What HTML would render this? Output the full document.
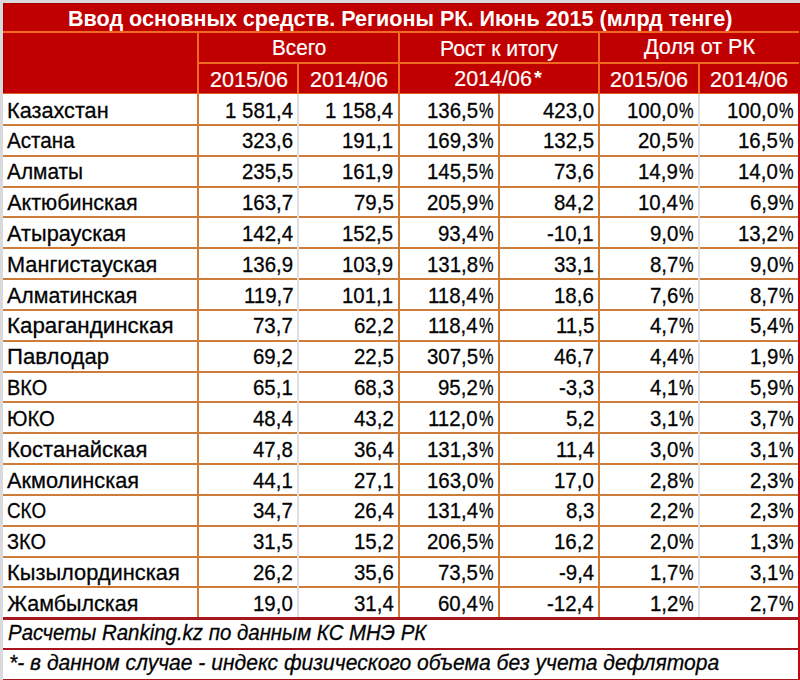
<!DOCTYPE html>
<html><head><meta charset="utf-8"><style>
html,body{margin:0;padding:0;width:800px;height:680px;overflow:hidden;background:#DADADC}
#w{position:absolute;left:0;top:0;width:800px;height:680px;overflow:hidden}
#w>div{position:absolute}
.t{font-family:"Liberation Sans",sans-serif;line-height:30px;white-space:pre;transform-origin:0 0}
.k{-webkit-text-stroke:0.3px #111}
.wt{-webkit-text-stroke:0.2px #fff}
</style></head><body><div id="w">
<div style="left:0;top:0;width:800px;height:680px;background:#DADADC"></div>
<div style="left:3.00px;top:3.00px;width:797.00px;height:91.09px;background:#C00000"></div>
<div style="left:2.50px;top:94.09px;width:795.70px;height:585.91px;background:#FFFFFF"></div>
<div style="left:3.00px;top:3.00px;width:797.00px;height:1.00px;background:#A80000"></div>
<div style="left:3.00px;top:3.00px;width:1.00px;height:90.09px;background:#A80000"></div>
<div style="left:3.00px;top:31.43px;width:795.50px;height:2.00px;background:#F06A22"></div>
<div style="left:198.00px;top:62.26px;width:600.50px;height:2.00px;background:#F06A22"></div>
<div style="left:3.00px;top:93.09px;width:795.20px;height:1.40px;background:#E0602A"></div>
<div style="left:197.00px;top:32.43px;width:2.00px;height:61.66px;background:#F06A22"></div>
<div style="left:397.60px;top:32.43px;width:2.00px;height:61.66px;background:#F06A22"></div>
<div style="left:598.00px;top:32.43px;width:2.00px;height:61.66px;background:#F06A22"></div>
<div style="left:297.20px;top:63.26px;width:2.00px;height:30.83px;background:#F06A22"></div>
<div style="left:698.00px;top:63.26px;width:2.00px;height:30.83px;background:#F06A22"></div>
<div style="left:2.50px;top:123.92px;width:795.70px;height:2.00px;background:#CD7D37"></div>
<div style="left:2.50px;top:154.75px;width:795.70px;height:2.00px;background:#CD7D37"></div>
<div style="left:2.50px;top:185.58px;width:795.70px;height:2.00px;background:#CD7D37"></div>
<div style="left:2.50px;top:216.41px;width:795.70px;height:2.00px;background:#CD7D37"></div>
<div style="left:2.50px;top:247.24px;width:795.70px;height:2.00px;background:#CD7D37"></div>
<div style="left:2.50px;top:278.07px;width:795.70px;height:2.00px;background:#CD7D37"></div>
<div style="left:2.50px;top:308.90px;width:795.70px;height:2.00px;background:#CD7D37"></div>
<div style="left:2.50px;top:339.73px;width:795.70px;height:2.00px;background:#CD7D37"></div>
<div style="left:2.50px;top:370.56px;width:795.70px;height:2.00px;background:#CD7D37"></div>
<div style="left:2.50px;top:401.39px;width:795.70px;height:2.00px;background:#CD7D37"></div>
<div style="left:2.50px;top:432.22px;width:795.70px;height:2.00px;background:#CD7D37"></div>
<div style="left:2.50px;top:463.05px;width:795.70px;height:2.00px;background:#CD7D37"></div>
<div style="left:2.50px;top:493.88px;width:795.70px;height:2.00px;background:#CD7D37"></div>
<div style="left:2.50px;top:524.71px;width:795.70px;height:2.00px;background:#CD7D37"></div>
<div style="left:2.50px;top:555.54px;width:795.70px;height:2.00px;background:#CD7D37"></div>
<div style="left:2.50px;top:586.37px;width:795.70px;height:2.00px;background:#CD7D37"></div>
<div style="left:197.00px;top:94.09px;width:2.00px;height:524.11px;background:#CD7D37"></div>
<div style="left:397.60px;top:94.09px;width:2.00px;height:524.11px;background:#CD7D37"></div>
<div style="left:497.80px;top:94.09px;width:2.00px;height:524.11px;background:#CD7D37"></div>
<div style="left:598.00px;top:94.09px;width:2.00px;height:524.11px;background:#CD7D37"></div>
<div style="left:297.00px;top:94.09px;width:2.40px;height:524.11px;background:#E0E0E2"></div>
<div style="left:697.80px;top:94.09px;width:2.40px;height:524.11px;background:#E0E0E2"></div>
<div style="left:2.50px;top:617.40px;width:795.70px;height:2.20px;background:#A8161E"></div>
<div style="left:2.50px;top:648.23px;width:795.70px;height:2.20px;background:#A8161E"></div>
<div style="left:2.50px;top:679.06px;width:795.70px;height:2.20px;background:#A8161E"></div>
<div style="left:798.20px;top:94.09px;width:1.80px;height:585.91px;background:#C00A14"></div>
<div class="t" style="left:67.50px;top:3.83px;font-size:21.5px;color:#FFFFFF;font-weight:bold;transform:scaleX(1.0030);">Ввод основных средств. Регионы РК. Июнь 2015 (млрд тенге)</div>
<div class="t wt" style="left:271.90px;top:32.50px;font-size:21.5px;color:#FFFFFF;transform:scaleX(0.9640);">Всего</div>
<div class="t wt" style="left:439.80px;top:34.40px;font-size:21.5px;color:#FFFFFF;transform:scaleX(0.9855);">Рост к итогу</div>
<div class="t wt" style="left:644.00px;top:32.20px;font-size:21.5px;color:#FFFFFF;transform:scaleX(1.0044);">Доля от РК</div>
<div class="t wt" style="left:209.50px;top:64.89px;font-size:21.5px;color:#FFFFFF;transform:scaleX(1.0036);">2015/06</div>
<div class="t wt" style="left:309.50px;top:64.89px;font-size:21.5px;color:#FFFFFF;transform:scaleX(1.0036);">2014/06</div>
<div class="t wt" style="left:454.20px;top:63.50px;font-size:21.5px;color:#FFFFFF;">2014/06</div>
<div class="t" style="left:534.40px;top:62.50px;font-size:19px;color:#FFFFFF;font-weight:bold;transform:scaleX(1.0661);">*</div>
<div class="t wt" style="left:610.00px;top:64.89px;font-size:21.5px;color:#FFFFFF;transform:scaleX(1.0036);">2015/06</div>
<div class="t wt" style="left:710.00px;top:64.89px;font-size:21.5px;color:#FFFFFF;transform:scaleX(1.0036);">2014/06</div>
<div class="t k" style="left:7.20px;top:95.62px;font-size:21.5px;color:#000000;transform:scaleX(1.0087);">Казахстан</div>
<div class="t k" style="left:225.08px;top:95.62px;font-size:21.5px;color:#000000;transform:scaleX(0.9500);">1 581,4</div>
<div class="t k" style="left:325.48px;top:95.62px;font-size:21.5px;color:#000000;transform:scaleX(0.9500);">1 158,4</div>
<div class="t k" style="left:479.20px;top:95.62px;font-size:21.5px;color:#000000;transform:scaleX(0.7630);">%</div>
<div class="t k" style="left:426.84px;top:95.62px;font-size:21.5px;color:#000000;transform:scaleX(0.9500);">136,5</div>
<div class="t k" style="left:542.84px;top:95.62px;font-size:21.5px;color:#000000;transform:scaleX(0.9500);">423,0</div>
<div class="t k" style="left:679.40px;top:95.62px;font-size:21.5px;color:#000000;transform:scaleX(0.7630);">%</div>
<div class="t k" style="left:627.04px;top:95.62px;font-size:21.5px;color:#000000;transform:scaleX(0.9500);">100,0</div>
<div class="t k" style="left:779.40px;top:95.62px;font-size:21.5px;color:#000000;transform:scaleX(0.7630);">%</div>
<div class="t k" style="left:727.04px;top:95.62px;font-size:21.5px;color:#000000;transform:scaleX(0.9500);">100,0</div>
<div class="t k" style="left:7.20px;top:126.45px;font-size:21.5px;color:#000000;transform:scaleX(0.9614);">Астана</div>
<div class="t k" style="left:242.04px;top:126.45px;font-size:21.5px;color:#000000;transform:scaleX(0.9500);">323,6</div>
<div class="t k" style="left:342.44px;top:126.45px;font-size:21.5px;color:#000000;transform:scaleX(0.9500);">191,1</div>
<div class="t k" style="left:479.20px;top:126.45px;font-size:21.5px;color:#000000;transform:scaleX(0.7630);">%</div>
<div class="t k" style="left:426.84px;top:126.45px;font-size:21.5px;color:#000000;transform:scaleX(0.9500);">169,3</div>
<div class="t k" style="left:542.84px;top:126.45px;font-size:21.5px;color:#000000;transform:scaleX(0.9500);">132,5</div>
<div class="t k" style="left:679.40px;top:126.45px;font-size:21.5px;color:#000000;transform:scaleX(0.7630);">%</div>
<div class="t k" style="left:638.47px;top:126.45px;font-size:21.5px;color:#000000;transform:scaleX(0.9500);">20,5</div>
<div class="t k" style="left:779.40px;top:126.45px;font-size:21.5px;color:#000000;transform:scaleX(0.7630);">%</div>
<div class="t k" style="left:738.47px;top:126.45px;font-size:21.5px;color:#000000;transform:scaleX(0.9500);">16,5</div>
<div class="t k" style="left:7.20px;top:157.28px;font-size:21.5px;color:#000000;transform:scaleX(0.9691);">Алматы</div>
<div class="t k" style="left:242.04px;top:157.28px;font-size:21.5px;color:#000000;transform:scaleX(0.9500);">235,5</div>
<div class="t k" style="left:342.44px;top:157.28px;font-size:21.5px;color:#000000;transform:scaleX(0.9500);">161,9</div>
<div class="t k" style="left:479.20px;top:157.28px;font-size:21.5px;color:#000000;transform:scaleX(0.7630);">%</div>
<div class="t k" style="left:426.84px;top:157.28px;font-size:21.5px;color:#000000;transform:scaleX(0.9500);">145,5</div>
<div class="t k" style="left:554.27px;top:157.28px;font-size:21.5px;color:#000000;transform:scaleX(0.9500);">73,6</div>
<div class="t k" style="left:679.40px;top:157.28px;font-size:21.5px;color:#000000;transform:scaleX(0.7630);">%</div>
<div class="t k" style="left:638.47px;top:157.28px;font-size:21.5px;color:#000000;transform:scaleX(0.9500);">14,9</div>
<div class="t k" style="left:779.40px;top:157.28px;font-size:21.5px;color:#000000;transform:scaleX(0.7630);">%</div>
<div class="t k" style="left:738.47px;top:157.28px;font-size:21.5px;color:#000000;transform:scaleX(0.9500);">14,0</div>
<div class="t k" style="left:7.20px;top:188.11px;font-size:21.5px;color:#000000;">Актюбинская</div>
<div class="t k" style="left:242.04px;top:188.11px;font-size:21.5px;color:#000000;transform:scaleX(0.9500);">163,7</div>
<div class="t k" style="left:353.87px;top:188.11px;font-size:21.5px;color:#000000;transform:scaleX(0.9500);">79,5</div>
<div class="t k" style="left:479.20px;top:188.11px;font-size:21.5px;color:#000000;transform:scaleX(0.7630);">%</div>
<div class="t k" style="left:426.84px;top:188.11px;font-size:21.5px;color:#000000;transform:scaleX(0.9500);">205,9</div>
<div class="t k" style="left:554.27px;top:188.11px;font-size:21.5px;color:#000000;transform:scaleX(0.9500);">84,2</div>
<div class="t k" style="left:679.40px;top:188.11px;font-size:21.5px;color:#000000;transform:scaleX(0.7630);">%</div>
<div class="t k" style="left:638.47px;top:188.11px;font-size:21.5px;color:#000000;transform:scaleX(0.9500);">10,4</div>
<div class="t k" style="left:779.40px;top:188.11px;font-size:21.5px;color:#000000;transform:scaleX(0.7630);">%</div>
<div class="t k" style="left:749.81px;top:188.11px;font-size:21.5px;color:#000000;transform:scaleX(0.9500);">6,9</div>
<div class="t k" style="left:7.20px;top:218.94px;font-size:21.5px;color:#000000;transform:scaleX(1.0123);">Атырауская</div>
<div class="t k" style="left:242.04px;top:218.94px;font-size:21.5px;color:#000000;transform:scaleX(0.9500);">142,4</div>
<div class="t k" style="left:342.44px;top:218.94px;font-size:21.5px;color:#000000;transform:scaleX(0.9500);">152,5</div>
<div class="t k" style="left:479.20px;top:218.94px;font-size:21.5px;color:#000000;transform:scaleX(0.7630);">%</div>
<div class="t k" style="left:438.27px;top:218.94px;font-size:21.5px;color:#000000;transform:scaleX(0.9500);">93,4</div>
<div class="t k" style="left:547.43px;top:218.94px;font-size:21.5px;color:#000000;transform:scaleX(0.9500);">-10,1</div>
<div class="t k" style="left:679.40px;top:218.94px;font-size:21.5px;color:#000000;transform:scaleX(0.7630);">%</div>
<div class="t k" style="left:649.81px;top:218.94px;font-size:21.5px;color:#000000;transform:scaleX(0.9500);">9,0</div>
<div class="t k" style="left:779.40px;top:218.94px;font-size:21.5px;color:#000000;transform:scaleX(0.7630);">%</div>
<div class="t k" style="left:738.47px;top:218.94px;font-size:21.5px;color:#000000;transform:scaleX(0.9500);">13,2</div>
<div class="t k" style="left:7.20px;top:249.77px;font-size:21.5px;color:#000000;transform:scaleX(1.0109);">Мангистауская</div>
<div class="t k" style="left:242.04px;top:249.77px;font-size:21.5px;color:#000000;transform:scaleX(0.9500);">136,9</div>
<div class="t k" style="left:342.44px;top:249.77px;font-size:21.5px;color:#000000;transform:scaleX(0.9500);">103,9</div>
<div class="t k" style="left:479.20px;top:249.77px;font-size:21.5px;color:#000000;transform:scaleX(0.7630);">%</div>
<div class="t k" style="left:426.84px;top:249.77px;font-size:21.5px;color:#000000;transform:scaleX(0.9500);">131,8</div>
<div class="t k" style="left:554.27px;top:249.77px;font-size:21.5px;color:#000000;transform:scaleX(0.9500);">33,1</div>
<div class="t k" style="left:679.40px;top:249.77px;font-size:21.5px;color:#000000;transform:scaleX(0.7630);">%</div>
<div class="t k" style="left:649.81px;top:249.77px;font-size:21.5px;color:#000000;transform:scaleX(0.9500);">8,7</div>
<div class="t k" style="left:779.40px;top:249.77px;font-size:21.5px;color:#000000;transform:scaleX(0.7630);">%</div>
<div class="t k" style="left:749.81px;top:249.77px;font-size:21.5px;color:#000000;transform:scaleX(0.9500);">9,0</div>
<div class="t k" style="left:7.20px;top:280.60px;font-size:21.5px;color:#000000;transform:scaleX(0.9935);">Алматинская</div>
<div class="t k" style="left:243.57px;top:280.60px;font-size:21.5px;color:#000000;transform:scaleX(0.9500);">119,7</div>
<div class="t k" style="left:342.44px;top:280.60px;font-size:21.5px;color:#000000;transform:scaleX(0.9500);">101,1</div>
<div class="t k" style="left:479.20px;top:280.60px;font-size:21.5px;color:#000000;transform:scaleX(0.7630);">%</div>
<div class="t k" style="left:428.37px;top:280.60px;font-size:21.5px;color:#000000;transform:scaleX(0.9500);">118,4</div>
<div class="t k" style="left:554.27px;top:280.60px;font-size:21.5px;color:#000000;transform:scaleX(0.9500);">18,6</div>
<div class="t k" style="left:679.40px;top:280.60px;font-size:21.5px;color:#000000;transform:scaleX(0.7630);">%</div>
<div class="t k" style="left:649.81px;top:280.60px;font-size:21.5px;color:#000000;transform:scaleX(0.9500);">7,6</div>
<div class="t k" style="left:779.40px;top:280.60px;font-size:21.5px;color:#000000;transform:scaleX(0.7630);">%</div>
<div class="t k" style="left:749.81px;top:280.60px;font-size:21.5px;color:#000000;transform:scaleX(0.9500);">8,7</div>
<div class="t k" style="left:7.20px;top:311.43px;font-size:21.5px;color:#000000;transform:scaleX(1.0391);">Карагандинская</div>
<div class="t k" style="left:253.47px;top:311.43px;font-size:21.5px;color:#000000;transform:scaleX(0.9500);">73,7</div>
<div class="t k" style="left:353.87px;top:311.43px;font-size:21.5px;color:#000000;transform:scaleX(0.9500);">62,2</div>
<div class="t k" style="left:479.20px;top:311.43px;font-size:21.5px;color:#000000;transform:scaleX(0.7630);">%</div>
<div class="t k" style="left:428.37px;top:311.43px;font-size:21.5px;color:#000000;transform:scaleX(0.9500);">118,4</div>
<div class="t k" style="left:555.81px;top:311.43px;font-size:21.5px;color:#000000;transform:scaleX(0.9500);">11,5</div>
<div class="t k" style="left:679.40px;top:311.43px;font-size:21.5px;color:#000000;transform:scaleX(0.7630);">%</div>
<div class="t k" style="left:649.81px;top:311.43px;font-size:21.5px;color:#000000;transform:scaleX(0.9500);">4,7</div>
<div class="t k" style="left:779.40px;top:311.43px;font-size:21.5px;color:#000000;transform:scaleX(0.7630);">%</div>
<div class="t k" style="left:749.81px;top:311.43px;font-size:21.5px;color:#000000;transform:scaleX(0.9500);">5,4</div>
<div class="t k" style="left:7.20px;top:342.26px;font-size:21.5px;color:#000000;transform:scaleX(1.0296);">Павлодар</div>
<div class="t k" style="left:253.47px;top:342.26px;font-size:21.5px;color:#000000;transform:scaleX(0.9500);">69,2</div>
<div class="t k" style="left:353.87px;top:342.26px;font-size:21.5px;color:#000000;transform:scaleX(0.9500);">22,5</div>
<div class="t k" style="left:479.20px;top:342.26px;font-size:21.5px;color:#000000;transform:scaleX(0.7630);">%</div>
<div class="t k" style="left:426.84px;top:342.26px;font-size:21.5px;color:#000000;transform:scaleX(0.9500);">307,5</div>
<div class="t k" style="left:554.27px;top:342.26px;font-size:21.5px;color:#000000;transform:scaleX(0.9500);">46,7</div>
<div class="t k" style="left:679.40px;top:342.26px;font-size:21.5px;color:#000000;transform:scaleX(0.7630);">%</div>
<div class="t k" style="left:649.81px;top:342.26px;font-size:21.5px;color:#000000;transform:scaleX(0.9500);">4,4</div>
<div class="t k" style="left:779.40px;top:342.26px;font-size:21.5px;color:#000000;transform:scaleX(0.7630);">%</div>
<div class="t k" style="left:749.81px;top:342.26px;font-size:21.5px;color:#000000;transform:scaleX(0.9500);">1,9</div>
<div class="t k" style="left:7.20px;top:373.09px;font-size:21.5px;color:#000000;transform:scaleX(0.9302);">ВКО</div>
<div class="t k" style="left:253.47px;top:373.09px;font-size:21.5px;color:#000000;transform:scaleX(0.9500);">65,1</div>
<div class="t k" style="left:353.87px;top:373.09px;font-size:21.5px;color:#000000;transform:scaleX(0.9500);">68,3</div>
<div class="t k" style="left:479.20px;top:373.09px;font-size:21.5px;color:#000000;transform:scaleX(0.7630);">%</div>
<div class="t k" style="left:438.27px;top:373.09px;font-size:21.5px;color:#000000;transform:scaleX(0.9500);">95,2</div>
<div class="t k" style="left:558.77px;top:373.09px;font-size:21.5px;color:#000000;transform:scaleX(0.9500);">-3,3</div>
<div class="t k" style="left:679.40px;top:373.09px;font-size:21.5px;color:#000000;transform:scaleX(0.7630);">%</div>
<div class="t k" style="left:649.81px;top:373.09px;font-size:21.5px;color:#000000;transform:scaleX(0.9500);">4,1</div>
<div class="t k" style="left:779.40px;top:373.09px;font-size:21.5px;color:#000000;transform:scaleX(0.7630);">%</div>
<div class="t k" style="left:749.81px;top:373.09px;font-size:21.5px;color:#000000;transform:scaleX(0.9500);">5,9</div>
<div class="t k" style="left:7.20px;top:403.92px;font-size:21.5px;color:#000000;transform:scaleX(0.9421);">ЮКО</div>
<div class="t k" style="left:253.47px;top:403.92px;font-size:21.5px;color:#000000;transform:scaleX(0.9500);">48,4</div>
<div class="t k" style="left:353.87px;top:403.92px;font-size:21.5px;color:#000000;transform:scaleX(0.9500);">43,2</div>
<div class="t k" style="left:479.20px;top:403.92px;font-size:21.5px;color:#000000;transform:scaleX(0.7630);">%</div>
<div class="t k" style="left:428.37px;top:403.92px;font-size:21.5px;color:#000000;transform:scaleX(0.9500);">112,0</div>
<div class="t k" style="left:565.61px;top:403.92px;font-size:21.5px;color:#000000;transform:scaleX(0.9500);">5,2</div>
<div class="t k" style="left:679.40px;top:403.92px;font-size:21.5px;color:#000000;transform:scaleX(0.7630);">%</div>
<div class="t k" style="left:649.81px;top:403.92px;font-size:21.5px;color:#000000;transform:scaleX(0.9500);">3,1</div>
<div class="t k" style="left:779.40px;top:403.92px;font-size:21.5px;color:#000000;transform:scaleX(0.7630);">%</div>
<div class="t k" style="left:749.81px;top:403.92px;font-size:21.5px;color:#000000;transform:scaleX(0.9500);">3,7</div>
<div class="t k" style="left:7.20px;top:434.75px;font-size:21.5px;color:#000000;transform:scaleX(1.0252);">Костанайская</div>
<div class="t k" style="left:253.47px;top:434.75px;font-size:21.5px;color:#000000;transform:scaleX(0.9500);">47,8</div>
<div class="t k" style="left:353.87px;top:434.75px;font-size:21.5px;color:#000000;transform:scaleX(0.9500);">36,4</div>
<div class="t k" style="left:479.20px;top:434.75px;font-size:21.5px;color:#000000;transform:scaleX(0.7630);">%</div>
<div class="t k" style="left:426.84px;top:434.75px;font-size:21.5px;color:#000000;transform:scaleX(0.9500);">131,3</div>
<div class="t k" style="left:555.81px;top:434.75px;font-size:21.5px;color:#000000;transform:scaleX(0.9500);">11,4</div>
<div class="t k" style="left:679.40px;top:434.75px;font-size:21.5px;color:#000000;transform:scaleX(0.7630);">%</div>
<div class="t k" style="left:649.81px;top:434.75px;font-size:21.5px;color:#000000;transform:scaleX(0.9500);">3,0</div>
<div class="t k" style="left:779.40px;top:434.75px;font-size:21.5px;color:#000000;transform:scaleX(0.7630);">%</div>
<div class="t k" style="left:749.81px;top:434.75px;font-size:21.5px;color:#000000;transform:scaleX(0.9500);">3,1</div>
<div class="t k" style="left:7.20px;top:465.58px;font-size:21.5px;color:#000000;transform:scaleX(1.0102);">Акмолинская</div>
<div class="t k" style="left:253.47px;top:465.58px;font-size:21.5px;color:#000000;transform:scaleX(0.9500);">44,1</div>
<div class="t k" style="left:353.87px;top:465.58px;font-size:21.5px;color:#000000;transform:scaleX(0.9500);">27,1</div>
<div class="t k" style="left:479.20px;top:465.58px;font-size:21.5px;color:#000000;transform:scaleX(0.7630);">%</div>
<div class="t k" style="left:426.84px;top:465.58px;font-size:21.5px;color:#000000;transform:scaleX(0.9500);">163,0</div>
<div class="t k" style="left:554.27px;top:465.58px;font-size:21.5px;color:#000000;transform:scaleX(0.9500);">17,0</div>
<div class="t k" style="left:679.40px;top:465.58px;font-size:21.5px;color:#000000;transform:scaleX(0.7630);">%</div>
<div class="t k" style="left:649.81px;top:465.58px;font-size:21.5px;color:#000000;transform:scaleX(0.9500);">2,8</div>
<div class="t k" style="left:779.40px;top:465.58px;font-size:21.5px;color:#000000;transform:scaleX(0.7630);">%</div>
<div class="t k" style="left:749.81px;top:465.58px;font-size:21.5px;color:#000000;transform:scaleX(0.9500);">2,3</div>
<div class="t k" style="left:7.20px;top:496.41px;font-size:21.5px;color:#000000;transform:scaleX(0.8774);">СКО</div>
<div class="t k" style="left:253.47px;top:496.41px;font-size:21.5px;color:#000000;transform:scaleX(0.9500);">34,7</div>
<div class="t k" style="left:353.87px;top:496.41px;font-size:21.5px;color:#000000;transform:scaleX(0.9500);">26,4</div>
<div class="t k" style="left:479.20px;top:496.41px;font-size:21.5px;color:#000000;transform:scaleX(0.7630);">%</div>
<div class="t k" style="left:426.84px;top:496.41px;font-size:21.5px;color:#000000;transform:scaleX(0.9500);">131,4</div>
<div class="t k" style="left:565.61px;top:496.41px;font-size:21.5px;color:#000000;transform:scaleX(0.9500);">8,3</div>
<div class="t k" style="left:679.40px;top:496.41px;font-size:21.5px;color:#000000;transform:scaleX(0.7630);">%</div>
<div class="t k" style="left:649.81px;top:496.41px;font-size:21.5px;color:#000000;transform:scaleX(0.9500);">2,2</div>
<div class="t k" style="left:779.40px;top:496.41px;font-size:21.5px;color:#000000;transform:scaleX(0.7630);">%</div>
<div class="t k" style="left:749.81px;top:496.41px;font-size:21.5px;color:#000000;transform:scaleX(0.9500);">2,3</div>
<div class="t k" style="left:7.20px;top:527.24px;font-size:21.5px;color:#000000;transform:scaleX(0.9290);">ЗКО</div>
<div class="t k" style="left:253.47px;top:527.24px;font-size:21.5px;color:#000000;transform:scaleX(0.9500);">31,5</div>
<div class="t k" style="left:353.87px;top:527.24px;font-size:21.5px;color:#000000;transform:scaleX(0.9500);">15,2</div>
<div class="t k" style="left:479.20px;top:527.24px;font-size:21.5px;color:#000000;transform:scaleX(0.7630);">%</div>
<div class="t k" style="left:426.84px;top:527.24px;font-size:21.5px;color:#000000;transform:scaleX(0.9500);">206,5</div>
<div class="t k" style="left:554.27px;top:527.24px;font-size:21.5px;color:#000000;transform:scaleX(0.9500);">16,2</div>
<div class="t k" style="left:679.40px;top:527.24px;font-size:21.5px;color:#000000;transform:scaleX(0.7630);">%</div>
<div class="t k" style="left:649.81px;top:527.24px;font-size:21.5px;color:#000000;transform:scaleX(0.9500);">2,0</div>
<div class="t k" style="left:779.40px;top:527.24px;font-size:21.5px;color:#000000;transform:scaleX(0.7630);">%</div>
<div class="t k" style="left:749.81px;top:527.24px;font-size:21.5px;color:#000000;transform:scaleX(0.9500);">1,3</div>
<div class="t k" style="left:7.20px;top:558.07px;font-size:21.5px;color:#000000;transform:scaleX(1.0154);">Кызылординская</div>
<div class="t k" style="left:253.47px;top:558.07px;font-size:21.5px;color:#000000;transform:scaleX(0.9500);">26,2</div>
<div class="t k" style="left:353.87px;top:558.07px;font-size:21.5px;color:#000000;transform:scaleX(0.9500);">35,6</div>
<div class="t k" style="left:479.20px;top:558.07px;font-size:21.5px;color:#000000;transform:scaleX(0.7630);">%</div>
<div class="t k" style="left:438.27px;top:558.07px;font-size:21.5px;color:#000000;transform:scaleX(0.9500);">73,5</div>
<div class="t k" style="left:558.77px;top:558.07px;font-size:21.5px;color:#000000;transform:scaleX(0.9500);">-9,4</div>
<div class="t k" style="left:679.40px;top:558.07px;font-size:21.5px;color:#000000;transform:scaleX(0.7630);">%</div>
<div class="t k" style="left:649.81px;top:558.07px;font-size:21.5px;color:#000000;transform:scaleX(0.9500);">1,7</div>
<div class="t k" style="left:779.40px;top:558.07px;font-size:21.5px;color:#000000;transform:scaleX(0.7630);">%</div>
<div class="t k" style="left:749.81px;top:558.07px;font-size:21.5px;color:#000000;transform:scaleX(0.9500);">3,1</div>
<div class="t k" style="left:7.20px;top:588.90px;font-size:21.5px;color:#000000;">Жамбылская</div>
<div class="t k" style="left:253.47px;top:588.90px;font-size:21.5px;color:#000000;transform:scaleX(0.9500);">19,0</div>
<div class="t k" style="left:353.87px;top:588.90px;font-size:21.5px;color:#000000;transform:scaleX(0.9500);">31,4</div>
<div class="t k" style="left:479.20px;top:588.90px;font-size:21.5px;color:#000000;transform:scaleX(0.7630);">%</div>
<div class="t k" style="left:438.27px;top:588.90px;font-size:21.5px;color:#000000;transform:scaleX(0.9500);">60,4</div>
<div class="t k" style="left:547.43px;top:588.90px;font-size:21.5px;color:#000000;transform:scaleX(0.9500);">-12,4</div>
<div class="t k" style="left:679.40px;top:588.90px;font-size:21.5px;color:#000000;transform:scaleX(0.7630);">%</div>
<div class="t k" style="left:649.81px;top:588.90px;font-size:21.5px;color:#000000;transform:scaleX(0.9500);">1,2</div>
<div class="t k" style="left:779.40px;top:588.90px;font-size:21.5px;color:#000000;transform:scaleX(0.7630);">%</div>
<div class="t k" style="left:749.81px;top:588.90px;font-size:21.5px;color:#000000;transform:scaleX(0.9500);">2,7</div>
<div class="t k" style="left:7.60px;top:617.63px;font-size:21.5px;color:#000000;font-style:italic;transform:scaleX(0.9502);">Расчеты Ranking.kz по данным КС МНЭ РК</div>
<div class="t k" style="left:8.50px;top:648.46px;font-size:21.5px;color:#000000;font-style:italic;transform:scaleX(0.9798);">*- в данном случае - индекс физического объема без учета дефлятора</div>
</div></body></html>
